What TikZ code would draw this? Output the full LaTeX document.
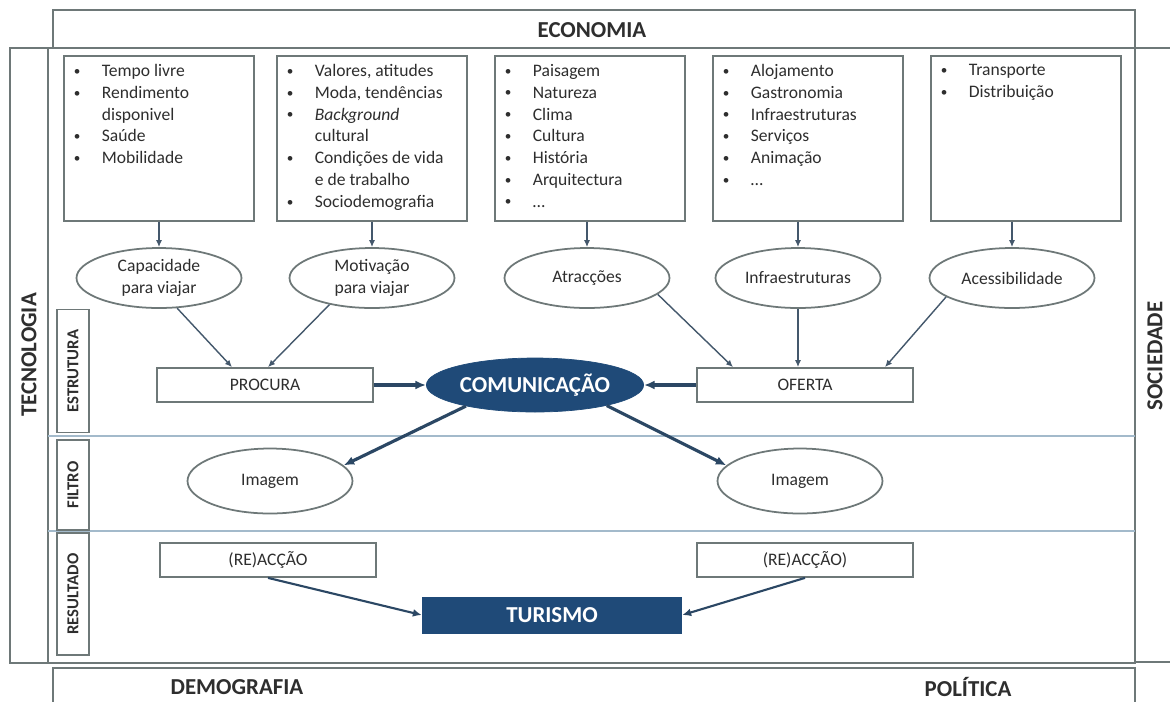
\documentclass[tikz,border=0pt]{standalone}
\usepackage{fontspec}
\usepackage{graphicx}
\setmainfont{Carlito}
\usetikzlibrary{shapes.geometric,arrows.meta}

\definecolor{framegray}{HTML}{6E7878}
\definecolor{lanegray}{HTML}{A3BACB}
\definecolor{linkblue}{HTML}{2B4764}
\definecolor{navy}{HTML}{1F4A78}
\definecolor{inkgray}{HTML}{2E2E2E}

\newcommand{\itm}[1]{\makebox[0.56cm][l]{\raisebox{0.15ex}{\scalebox{0.75}{\textbullet}}}#1\par}
\newcommand{\cnt}[1]{\hspace*{0.56cm}#1\par}
\newcommand{\blist}[1]{\begin{minipage}[t][2.96cm][t]{3.4cm}\raggedright #1\end{minipage}}

\tikzset{
  frame/.style = {draw=framegray, line width=1pt},
  listbox/.style = {frame, anchor=north west, inner xsep=0.2cm, inner ysep=0.17cm, text=inkgray, font=\fontsize{10}{12.4}\selectfont},
  oval/.style = {ellipse, frame, minimum width=3.3cm, minimum height=1.2cm, inner sep=1pt, align=center, text=inkgray, font=\fontsize{10}{12.4}\selectfont},
  plainbox/.style = {frame, minimum width=4.32cm, minimum height=0.68cm, text=inkgray, font=\fontsize{10}{12}\selectfont},
  hub/.style = {ellipse, fill=navy, draw=navy, text=white, inner sep=1pt, minimum width=3.92cm, minimum height=1.08cm, font=\bfseries\fontsize{13}{15}\selectfont},
  goal/.style = {fill=navy, text=white, minimum width=5.2cm, minimum height=0.74cm, font=\bfseries\fontsize{13}{15}\selectfont},
  side/.style = {text=inkgray, inner sep=1pt, font=\bfseries\fontsize{13}{15}\selectfont},
  lane/.style = {frame, rotate=90, minimum height=0.64cm, inner sep=1pt, text=inkgray, font=\bfseries\fontsize{9.5}{11}\selectfont},
  feed/.style = {draw=linkblue!70!gray, line width=0.8pt, -{Latex[length=4pt,width=3.5pt]}},
  link/.style = {draw=linkblue, line width=1.2pt, -{Latex[length=5pt,width=4.5pt]}},
  flow/.style = {draw=linkblue, line width=1.8pt, -{Latex[length=6pt,width=5pt]}},
}

\begin{document}
\begin{tikzpicture}[x=0.02cm, y=-0.02cm]
\clip (0,0) rectangle (1170,701);
\fill[white] (0,0) rectangle (1170,701);

% outer frames
\draw[frame] (53,10) rectangle (1135,48);
\draw[frame] (10,48) -- (1170,48);
\draw[frame] (10,48) rectangle (48,663);
\draw[frame] (48,48) rectangle (1135,663);
\draw[frame] (1135,662) -- (1170,662);
\draw[frame] (53,668) rectangle (1135,720);
\draw[lanegray, line width=1pt] (48,436) -- (1135,436) (48,531) -- (1135,531);

\node[side] (eco) at (592,30) {ECONOMIA};
\node[side, rotate=90] (tec) at (29,355) {TECNOLOGIA};
\node[side, rotate=90] (soc) at (1155,356) {SOCIEDADE};
\node[side] (dem) at (237,687) {DEMOGRAFIA};
\node[side] (pol) at (968,687) {POLÍTICA};

% lanes
\node[lane, minimum width=2.46cm] (est) at (73,371) {ESTRUTURA};
\node[lane, minimum width=1.8cm] (fil) at (73,485) {FILTRO};
\node[lane, minimum width=2.44cm] (res) at (73,594) {RESULTADO};

% factor lists
\node[listbox] (b1) at (63,55) {\blist{\itm{Tempo livre}\itm{Rendimento}\cnt{disponivel}\itm{Saúde}\itm{Mobilidade}}};
\node[listbox] (b2) at (276,55) {\blist{\itm{Valores, atitudes}\itm{Moda, tendências}\itm{\textit{Background}}\cnt{cultural}\itm{Condições de vida}\cnt{e de trabalho}\itm{Sociodemografia}}};
\node[listbox] (b3) at (494,55) {\blist{\itm{Paisagem}\itm{Natureza}\itm{Clima}\itm{Cultura}\itm{História}\itm{Arquitectura}\itm{\ldots}}};
\node[listbox] (b4) at (712,55) {\blist{\itm{Alojamento}\itm{Gastronomia}\itm{Infraestruturas}\itm{Serviços}\itm{Animação}\itm{\ldots}}};
\node[listbox] (b5) at (930,55) {\blist{\itm{Transporte}\itm{Distribuição}}};

\node[oval] (cap) at (159,278) {Capacidade\\para viajar};
\node[oval] (mot) at (372,278) {Motivação\\para viajar};
\node[oval] (atr) at (587,278) {Atracções};
\node[oval] (inf) at (798,278) {Infraestruturas};
\node[oval] (ace) at (1012,278) {Acessibilidade};

% structure / filter / result
\node[plainbox] (proc) at (265,385) {PROCURA};
\node[hub] (com) at (535,385) {COMUNICAÇÃO};
\node[plainbox] (ofe) at (805,385) {OFERTA};
\node[oval, minimum height=1.3cm] (img1) at (270,481) {Imagem};
\node[oval, minimum height=1.3cm] (img2) at (800,481) {Imagem};
\node[plainbox] (rea1) at (268,560) {(RE)ACÇÃO};
\node[plainbox] (rea2) at (805,560) {(RE)ACÇÃO)};
\node[goal] (tur) at (552,615) {TURISMO};

\foreach \b/\o in {b1/cap, b2/mot, b3/atr, b4/inf, b5/ace}
  \draw[feed] (\o.north |- \b.south) -- (\o.north);
\draw[feed] (cap.-59) -- ([xshift=-0.66cm]proc.north);
\draw[feed] (mot.-148) -- ([xshift=0.06cm]proc.north);
\draw[feed] (atr.-13) -- ([xshift=-1.44cm]ofe.north);
\draw[feed] (inf.south) -- (inf.south |- ofe.north);
\draw[feed] (ace.-164) -- ([xshift=1.6cm]ofe.north);
\draw[flow] (proc) -- (com);
\draw[flow] (ofe) -- (com);
\draw[flow] (com.-163) -- (img1.12);
\draw[flow] (com.-16) -- (img2.168);
\draw[link] (rea1.south) -- (tur.west);
\draw[link] (rea2.south) -- (tur.east);
\end{tikzpicture}
\end{document}
